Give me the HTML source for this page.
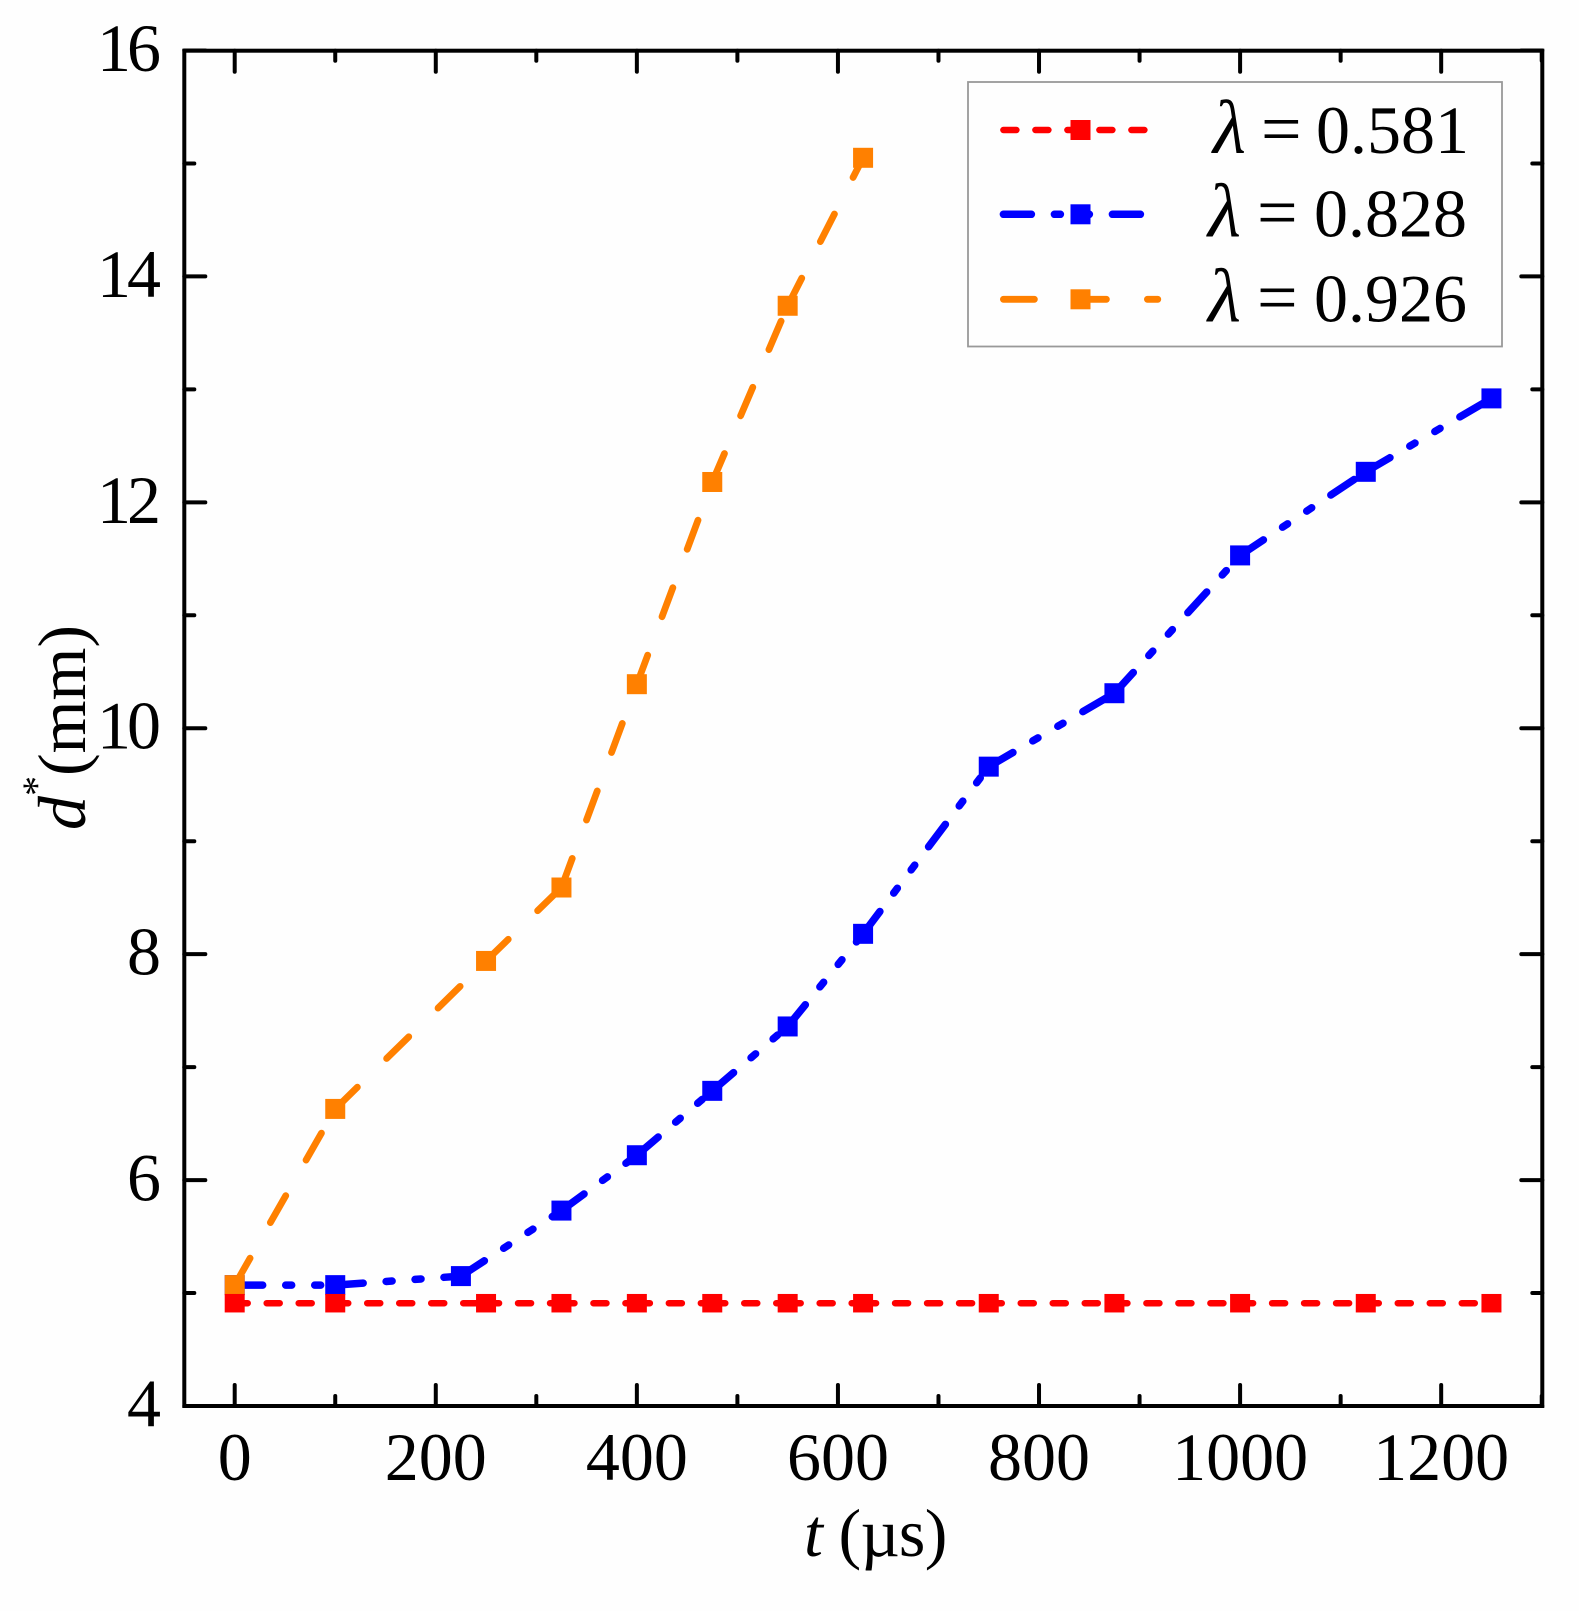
<!DOCTYPE html>
<html lang="en">
<head>
<meta charset="utf-8">
<title>d* versus t</title>
<style>
html,body{margin:0;padding:0;background:#fefefe;width:1579px;height:1611px;overflow:hidden}
svg{display:block}
text{font-family:"Liberation Serif","DejaVu Serif",serif;fill:#000;font-size:68px}
</style>
</head>
<body>
<svg id="chart" xmlns="http://www.w3.org/2000/svg" width="1579" height="1611" viewBox="0 0 1579 1611">
  <g id="series-layer"></g>
  <rect x="184.3" y="50.7" width="1358" height="1355.3" fill="none" stroke="#000" stroke-width="4"/>
  <g id="tick-layer"></g>
  <text x="804" y="1556" letter-spacing="-0.7"><tspan font-style="italic">t</tspan> (µs)</text>
  <text transform="translate(85,830) rotate(-90)"><tspan font-style="italic">d</tspan><tspan font-size="40" dy="-35">*</tspan><tspan dy="35">(mm)</tspan></text>
  <g>
    <rect x="968" y="82" width="534" height="264.5" fill="#fefefe" stroke="#999" stroke-width="1.8"/>
    <g>
      <line x1="1003.4" x2="1157.8" y1="130" y2="130" stroke="#ff0000" stroke-width="6.5" stroke-linecap="round" stroke-dasharray="13 19"/>
      <rect x="1070.5" y="120" width="20" height="20" fill="#ff0000"/>
      <text y="153"><tspan font-style="italic" font-size="76" x="1213">λ</tspan><tspan font-size="72" x="1261">=</tspan><tspan x="1316">0.581</tspan></text>
    </g>
    <g>
      <line x1="1003.4" x2="1157.8" y1="214.3" y2="214.3" stroke="#0000ff" stroke-width="7.5" stroke-linecap="round" stroke-dasharray="28 23 6 23 6 23"/>
      <rect x="1070.5" y="204.3" width="20" height="20" fill="#0000ff"/>
      <text y="236.5"><tspan font-style="italic" font-size="76" x="1208">λ</tspan><tspan font-size="72" x="1257">=</tspan><tspan x="1314">0.828</tspan></text>
    </g>
    <g>
      <line x1="1003.4" x2="1157.8" y1="299.3" y2="299.3" stroke="#ff8000" stroke-width="6.8" stroke-linecap="round" stroke-dasharray="31 41"/>
      <rect x="1070.5" y="289.3" width="20" height="20" fill="#ff8000"/>
      <text y="321.5"><tspan font-style="italic" font-size="76" x="1208">λ</tspan><tspan font-size="72" x="1257">=</tspan><tspan x="1314">0.926</tspan></text>
    </g>
  </g>
</svg>
<script>
const timeRed = [0, 100, 250, 325, 400, 475, 550, 625, 750, 875, 1000, 1125, 1250];
const valuesRed = [4.91, 4.91, 4.91, 4.91, 4.91, 4.91, 4.91, 4.91, 4.91, 4.91, 4.91, 4.91, 4.91];
const timeBlue = [0, 100, 225, 325, 400, 475, 550, 625, 750, 875, 1000, 1125, 1250];
const valuesBlue = [5.07, 5.07, 5.15, 5.73, 6.22, 6.79, 7.36, 8.18, 9.66, 10.31, 11.53, 12.27, 12.92];
const timeOrange = [0, 100, 250, 325, 400, 475, 550, 625];
const valuesOrange = [5.07, 6.63, 7.94, 8.59, 10.39, 12.18, 13.74, 15.05];
const xTickLabels = [0, 200, 400, 600, 800, 1000, 1200];
const xMinorTicks = [100, 300, 500, 700, 900, 1100, 1300];
const yTickLabels = [4, 6, 8, 10, 12, 14, 16];
const yMinorTicks = [5, 7, 9, 11, 13, 15];

function xAxis(t) { return 234.7 + t * 1.0054; }
function yAxis(v) { return 1406 - (v - 4) * 112.96; }

const NS = 'http://www.w3.org/2000/svg';
const seriesLayer = document.getElementById('series-layer');
const tickLayer = document.getElementById('tick-layer');

function tickLine(x1, y1, x2, y2) {
  const el = document.createElementNS(NS, 'line');
  el.setAttribute('x1', x1);
  el.setAttribute('y1', y1);
  el.setAttribute('x2', x2);
  el.setAttribute('y2', y2);
  el.setAttribute('stroke', '#000');
  el.setAttribute('stroke-width', '4');
  el.setAttribute('stroke-linecap', 'round');
  
  
  tickLayer.appendChild(el);
}

function xTicks(list, len) {
  list.forEach(function (t) {
    const x = xAxis(t);
    tickLine(x, 1406, x, 1406 - len);
    tickLine(x, 50.7, x, 50.7 + len);
  });
}
function yTicks(list, len) {
  list.forEach(function (v) {
    const y = yAxis(v);
    tickLine(184.3, y, 184.3 + len, y);
    tickLine(1542.3, y, 1542.3 - len, y);
  });
}
xTicks(xTickLabels, 21);
xTicks(xMinorTicks, 10);
yTicks(yTickLabels, 21);
yTicks(yMinorTicks, 10);

xTickLabels.forEach(function (t) {
  const el = document.createElementNS(NS, 'text');
  el.setAttribute('x', xAxis(t));
  el.setAttribute('y', 1480);
  el.setAttribute('text-anchor', 'middle');
  
  
  el.textContent = String(t);
  tickLayer.appendChild(el);
});
yTickLabels.forEach(function (v) {
  const el = document.createElementNS(NS, 'text');
  const twoDigit = String(v).length > 1;
  el.setAttribute('x', twoDigit ? 157 : 161);
  el.setAttribute('y', yAxis(v) + 20.5);
  el.setAttribute('text-anchor', 'end');
  if (twoDigit) { el.setAttribute('letter-spacing', '-4'); }
  
  
  el.textContent = String(v);
  tickLayer.appendChild(el);
});

function drawSeries(name, times, values, color, lineWidth, dash, markerH) {
  const group = document.createElementNS(NS, 'g');
  
  
  for (let i = 0; i + 1 < times.length; i++) {
    const seg = document.createElementNS(NS, 'line');
    seg.setAttribute('x1', xAxis(times[i]));
    seg.setAttribute('y1', yAxis(values[i]));
    seg.setAttribute('x2', xAxis(times[i + 1]));
    seg.setAttribute('y2', yAxis(values[i + 1]));
    seg.setAttribute('stroke', color);
    seg.setAttribute('stroke-width', lineWidth);
    seg.setAttribute('stroke-linecap', 'round');
    seg.setAttribute('stroke-dasharray', dash);
    
    
    group.appendChild(seg);
  }
  for (let i = 0; i < times.length; i++) {
    const mark = document.createElementNS(NS, 'rect');
    mark.setAttribute('x', xAxis(times[i]) - 10);
    mark.setAttribute('y', yAxis(values[i]) - markerH / 2);
    mark.setAttribute('width', 20);
    mark.setAttribute('height', markerH);
    mark.setAttribute('fill', color);
    
    
    group.appendChild(mark);
  }
  seriesLayer.appendChild(group);
}
drawSeries('series-0828', timeBlue, valuesBlue, '#0000ff', 7.5, '28 23 6 23 6 23', 20);
drawSeries('series-0926', timeOrange, valuesOrange, '#ff8000', 6.8, '31 41', 20);
drawSeries('series-0581', timeRed, valuesRed, '#ff0000', 6.5, '13 19', 18.5);
</script>
</body>
</html>
